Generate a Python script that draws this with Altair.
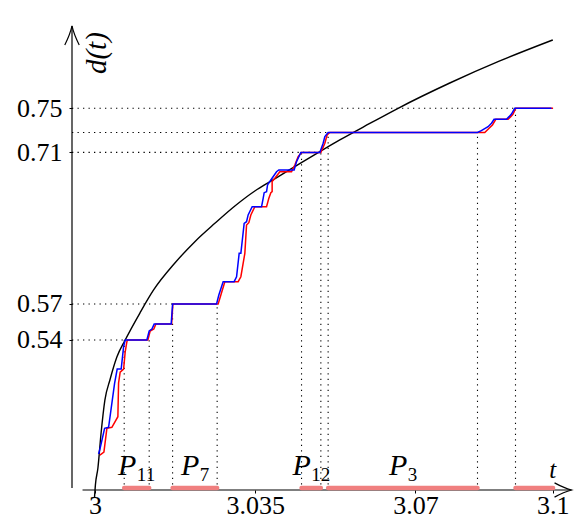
import json
import altair as alt
import pandas as pd

# ---------------- data ----------------
CURVE_T = [2.99991, 3.00011, 3.00066, 3.00131, 3.00218, 3.00328, 3.00480, 3.00662, 3.00983,
           3.01282, 3.01747, 3.02183, 3.02620, 3.03057, 3.03493, 3.03865, 3.04367, 3.04913,
           3.05349, 3.06004, 3.06622, 3.07751, 3.08843, 3.10000]
CURVE_D = [0.3967, 0.4085, 0.4239, 0.4538, 0.4855, 0.5037, 0.5245, 0.5400, 0.5644,
           0.5853, 0.6097, 0.6291, 0.6457, 0.6614, 0.6750, 0.6845, 0.6971, 0.7107,
           0.7213, 0.7362, 0.7500, 0.7729, 0.7929, 0.8119]

BLUE_T = [3.00081, 3.00120, 3.00212, 3.00299, 3.00430, 3.00487, 3.00574, 3.00627, 3.00662,
          3.01135, 3.01186, 3.01245, 3.01295, 3.01666, 3.01697, 3.02657, 3.02707, 3.02801,
          3.03041, 3.03094, 3.03151, 3.03188, 3.03260, 3.03312, 3.03347, 3.03435, 3.03640,
          3.03675, 3.03697, 3.03749, 3.03771, 3.03843, 3.03967, 3.04017, 3.04352, 3.04404,
          3.04498, 3.04913, 3.04985, 3.05022, 3.05094, 3.08356, 3.08440, 3.08587, 3.08662,
          3.08718, 3.08989, 3.09046, 3.09098, 3.09170, 3.09972]
BLUE_D = [0.4366, 0.4429, 0.4599, 0.4608, 0.5007, 0.5136, 0.5136, 0.5339, 0.5400,
          0.5400, 0.5481, 0.5499, 0.5544, 0.5544, 0.5726, 0.5726, 0.5807, 0.5928,
          0.5928, 0.5973, 0.6185, 0.6185, 0.6457, 0.6472, 0.6533, 0.6608, 0.6608,
          0.6684, 0.6735, 0.6744, 0.6805, 0.6850, 0.6925, 0.6941, 0.6941, 0.7016,
          0.7100, 0.7100, 0.7183, 0.7243, 0.7280, 0.7280, 0.7297, 0.7333, 0.7364,
          0.7400, 0.7400, 0.7424, 0.7448, 0.7500, 0.7500]

RED_T = [3.00109, 3.00197, 3.00262, 3.00371, 3.00502, 3.00517, 3.00552, 3.00627, 3.00662,
         3.00699, 3.00710, 3.01157, 3.01207, 3.01288, 3.01332, 3.01675, 3.01703, 3.02692,
         3.02751, 3.02838, 3.03129, 3.03188, 3.03275, 3.03312, 3.03362, 3.03406, 3.03493,
         3.03749, 3.03799, 3.03843, 3.03871, 3.03871, 3.03930, 3.04039, 3.04295, 3.04367,
         3.04439, 3.04513, 3.04935, 3.05022, 3.05072, 3.05131, 3.08515, 3.08609, 3.08683,
         3.08756, 3.09024, 3.09083, 3.09133, 3.09192, 3.10007]
RED_D = [0.4357, 0.4384, 0.4599, 0.4608, 0.4704, 0.5010, 0.5109, 0.5136, 0.5293,
         0.5384, 0.5400, 0.5400, 0.5481, 0.5499, 0.5544, 0.5544, 0.5726, 0.5726,
         0.5807, 0.5928, 0.5928, 0.5973, 0.6185, 0.6442, 0.6463, 0.6533, 0.6608,
         0.6608, 0.6684, 0.6735, 0.6744, 0.6835, 0.6865, 0.6925, 0.6925, 0.6986,
         0.7061, 0.7100, 0.7100, 0.7183, 0.7258, 0.7280, 0.7280, 0.7319, 0.7349,
         0.7400, 0.7400, 0.7424, 0.7448, 0.7500, 0.7500]

SEG_START = [3.00640, 3.01697, 3.04513, 3.05094, 3.09186]
SEG_END = [3.01186, 3.02670, 3.04935, 3.08356, 3.10007]
SEG_SUB = ["11", "7", "12", "3", ""]

HGUIDE_D = [0.5400, 0.5726, 0.7100, 0.7280, 0.7500]
HGUIDE_T_END = [3.00640, 3.01697, 3.04935, 3.05094, 3.09186]

VGUIDE_T = [3.00640, 3.01186, 3.01697, 3.02670, 3.04513, 3.04935, 3.05094, 3.08356, 3.09186]
VGUIDE_D_TOP = [0.5400, 0.5400, 0.5726, 0.5726, 0.7100, 0.7100, 0.7280, 0.7280, 0.7500]

X_TICKS = [3, 3.035, 3.07, 3.1]
X_TICK_LABELS = ["3", "3.035", "3.07", "3.1"]
Y_TICKS = [0.5400, 0.5726, 0.7100, 0.7500]
Y_TICK_LABELS = ["0.54", "0.57", "0.71", "0.75"]

# axis geometry (in data units)
X_DOMAIN = [2.995, 3.1042]
Y_DOMAIN = [0.404, 0.830]
X_AXIS_D = 0.404          # level of the t axis
X_AXIS_T0 = 2.9973
X_AXIS_T1 = 3.1041
Y_AXIS_T = 2.995          # position of the d axis
Y_AXIS_D0 = 0.4058
Y_AXIS_D1 = 0.8246

# ---------------- styling ----------------
FONT = "Liberation Serif"
W, H = 500, 470
PX_PER_T = W / (X_DOMAIN[1] - X_DOMAIN[0])

X_SCALE = alt.Scale(domain=X_DOMAIN, nice=False, zero=False)
Y_SCALE = alt.Scale(domain=Y_DOMAIN, nice=False, zero=False)


def label_expr(values, labels):
    return f"{json.dumps(labels)}[indexof({json.dumps(values)}, datum.value)]"


X_AXIS = alt.Axis(values=X_TICKS, labelExpr=label_expr(X_TICKS, X_TICK_LABELS), title=None,
                  domain=False, grid=False, ticks=True, tickSize=3, tickColor="black",
                  tickWidth=1, labelFont=FONT, labelFontSize=26, labelColor="black",
                  labelPadding=20, labelBaseline="alphabetic", labelFlush=False,
                  labelOverlap=False)
Y_AXIS = alt.Axis(values=Y_TICKS, labelExpr=label_expr(Y_TICKS, Y_TICK_LABELS), title=None,
                  domain=False, grid=False, ticks=True, tickSize=3, tickColor="black",
                  tickWidth=1, labelFont=FONT, labelFontSize=26, labelColor="black",
                  labelPadding=7, labelFlush=False, labelOverlap=False, labelBaseline="middle")


def X(field="t"):
    return alt.X(f"{field}:Q", scale=X_SCALE, axis=X_AXIS)


def Y(field="d"):
    return alt.Y(f"{field}:Q", scale=Y_SCALE, axis=Y_AXIS)


# ---------------- tables ----------------
curve_df = pd.DataFrame({"t": CURVE_T, "d": CURVE_D, "i": range(len(CURVE_T))})
blue_df = pd.DataFrame({"t": BLUE_T, "d": BLUE_D, "i": range(len(BLUE_T))})
red_df = pd.DataFrame({"t": RED_T, "d": RED_D, "i": range(len(RED_T))})

hg_df = pd.DataFrame({"t": [Y_AXIS_T] * len(HGUIDE_D), "t2": HGUIDE_T_END, "d": HGUIDE_D})
vg_df = pd.DataFrame({"t": VGUIDE_T, "d": [X_AXIS_D] * len(VGUIDE_T), "d2": VGUIDE_D_TOP})
seg_df = pd.DataFrame({"t": SEG_START, "t2": SEG_END, "d": [X_AXIS_D] * len(SEG_START)})

P_SIZE, SUB_SIZE = 30, 19
P_W, DIG_W = 0.611 * P_SIZE, 0.5 * SUB_SIZE
lab_rows = []
for s, e, sub in zip(SEG_START, SEG_END, SEG_SUB):
    if not sub:
        continue
    n = len(sub)
    off = ((P_W + n * DIG_W) / 2 - n * DIG_W) / PX_PER_T
    lab_rows.append({"t": (s + e) / 2 + off, "d": X_AXIS_D, "p": "P", "sub": sub})
lab_df = pd.DataFrame(lab_rows)

xaxis_df = pd.DataFrame({"t": [X_AXIS_T0], "t2": [X_AXIS_T1], "d": [X_AXIS_D]})
yaxis_df = pd.DataFrame({"t": [Y_AXIS_T], "d": [Y_AXIS_D0], "d2": [Y_AXIS_D1]})
xarrow_df = pd.DataFrame({"t": [X_AXIS_T1], "d": [X_AXIS_D]})
yarrow_df = pd.DataFrame({"t": [Y_AXIS_T], "d": [Y_AXIS_D1]})
tlab_df = pd.DataFrame({"t": [X_TICKS[-1]], "d": [X_AXIS_D], "txt": ["t"]})
dlab_df = pd.DataFrame({"t": [Y_AXIS_T], "d": [0.800], "txt": ["d(t)"]})

DOT = dict(strokeDash=[1.3, 4.2], strokeWidth=1.1, color="black")

hguides = alt.Chart(hg_df).mark_rule(**DOT).encode(x=X(), x2="t2", y=Y())
vguides = alt.Chart(vg_df).mark_rule(**DOT).encode(x=X(), y=Y(), y2="d2")

xaxis = alt.Chart(xaxis_df).mark_rule(color="black", strokeWidth=1.2).encode(x=X(), x2="t2", y=Y())
yaxis = alt.Chart(yaxis_df).mark_rule(color="black", strokeWidth=1.2).encode(x=X(), y=Y(), y2="d2")

segs = alt.Chart(seg_df).mark_rule(color="#f07f7f", strokeWidth=4.5, strokeCap="round",
                                   yOffset=-2).encode(x=X(), x2="t2", y=Y())

curve = alt.Chart(curve_df).mark_line(color="black", strokeWidth=1.4,
                                      interpolate="monotone").encode(x=X(), y=Y(), order="i:Q")
red = alt.Chart(red_df).mark_line(color="#ff0000", strokeWidth=1.5).encode(x=X(), y=Y(), order="i:Q")
blue = alt.Chart(blue_df).mark_line(color="#0000ff", strokeWidth=1.5).encode(x=X(), y=Y(), order="i:Q")

p_text = alt.Chart(lab_df).mark_text(font=FONT, fontSize=P_SIZE, fontStyle="italic", align="right",
                                     baseline="alphabetic", dy=-15, color="black").encode(
    x=X(), y=Y(), text="p:N")
sub_text = alt.Chart(lab_df).mark_text(font=FONT, fontSize=SUB_SIZE, align="left",
                                       baseline="alphabetic", dy=-9, dx=0.5, color="black").encode(
    x=X(), y=Y(), text="sub:N")

t_text = alt.Chart(tlab_df).mark_text(font=FONT, fontSize=25, fontStyle="italic", align="center",
                                      baseline="alphabetic", dy=-12, color="black").encode(
    x=X(), y=Y(), text="txt:N")
# rotated by 270 deg: dy moves the text to the right on screen
d_text = alt.Chart(dlab_df).mark_text(font=FONT, fontSize=29, fontStyle="italic", align="center",
                                      baseline="alphabetic", angle=270, dy=34, color="black").encode(
    x=X(), y=Y(), text="txt:N")

xarrow = alt.Chart(xarrow_df).mark_point(shape="M-1,-0.42Q-0.45,-0.12 0,0Q-0.45,0.12 -1,0.42",
                                         size=1156, filled=False, stroke="black", strokeWidth=1.2,
                                         opacity=1).encode(x=X(), y=Y())
yarrow = alt.Chart(yarrow_df).mark_point(shape="M-0.38,1Q-0.1,0.45 0,0Q0.1,0.45 0.38,1",
                                         size=1444, filled=False, stroke="black", strokeWidth=1.2,
                                         opacity=1).encode(x=X(), y=Y())

chart = alt.layer(
    hguides, vguides, xaxis, yaxis, segs, curve, red, blue,
    p_text, sub_text, t_text, d_text, xarrow, yarrow
).properties(
    width=W, height=H,
    padding={"left": 64, "top": 12, "right": 2, "bottom": 29},
    autosize=alt.AutoSizeParams(type="none"),
    background="white",
).configure_view(stroke=None)

chart.save("out.html", embed_options={"renderer": "svg", "actions": False})
